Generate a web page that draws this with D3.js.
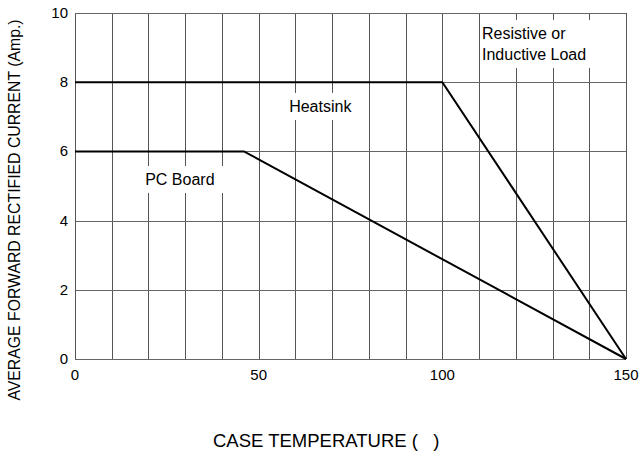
<!DOCTYPE html>
<html>
<head>
<meta charset="utf-8">
<script src="https://cdn.jsdelivr.net/npm/d3@7/dist/d3.min.js"></script>
<style>
  body { margin: 0; background: #fff; }
  svg text { font-family: "Liberation Sans", Arial, sans-serif; fill: #000; }
</style>
</head>
<body>
<div id="chart"></div>
<script>
'use strict';

// curve data
var heatsinkT = [0, 100, 150];
var heatsinkI = [8, 8, 0];
var boardT = [0, 46, 150];
var boardI = [6, 6, 0];

var xTicks = [0, 50, 100, 150];
var yTicks = [0, 2, 4, 6, 8, 10];
var xGrid = d3.range(0, 151, 10);

var labels = [
    { lines: ['Resistive or', 'Inductive Load'], t: 110.8, i: 9.25 },
    { lines: ['Heatsink'], t: 58.3, i: 7.14 },
    { lines: ['PC Board'], t: 19.1, i: 5.03 }
];

var width = 641, height = 456;
var margin = { left: 75, right: 15, top: 13, bottom: 97 };

var svg = d3.select('#chart')
    .append('svg')
        .attr('width', width)
        .attr('height', height);

var x = d3.scaleLinear().domain([0, 150]).range([margin.left, width - margin.right]);
var y = d3.scaleLinear().domain([0, 10]).range([height - margin.bottom, margin.top]);

// grid
svg.append('g')
    .selectAll('line')
    .data(xGrid)
    .enter()
    .append('line')
    .attr('x1', d => Math.round(x(d)) + 0.5)
    .attr('x2', d => Math.round(x(d)) + 0.5)
    .attr('y1', y(10))
    .attr('y2', y(0))
    .style('stroke', '#555')
    .style('stroke-width', 1);

svg.append('g')
    .selectAll('line')
    .data(yTicks)
    .enter()
    .append('line')
    .attr('x1', x(0))
    .attr('x2', x(150))
    .attr('y1', d => Math.round(y(d)) + 0.5)
    .attr('y2', d => Math.round(y(d)) + 0.5)
    .style('stroke', '#666')
    .style('stroke-width', 1);

// label boxes (they blank out the grid)
var lab = svg.append('g');
labels.forEach(function (l) {
    var g = lab.append('g');
    var txt = g.append('text')
        .attr('x', x(l.t))
        .attr('y', y(l.i))
        .style('font-size', '16px');
    l.lines.forEach(function (s, k) {
        txt.append('tspan')
            .attr('x', x(l.t))
            .attr('dy', k === 0 ? 0 : 21)
            .text(s);
    });
    var bb = txt.node().getBBox();
    g.insert('rect', 'text')
        .attr('x', bb.x - 2)
        .attr('y', bb.y - 5)
        .attr('width', bb.width + 14)
        .attr('height', bb.height + 10)
        .style('fill', '#fff');
});

// curves
var line = d3.line()
    .x(d => x(d[0]))
    .y(d => y(d[1]));

svg.append('path')
    .datum(d3.zip(heatsinkT, heatsinkI))
    .attr('d', line)
    .style('fill', 'none')
    .style('stroke', '#000')
    .style('stroke-width', 2);

svg.append('path')
    .datum(d3.zip(boardT, boardI))
    .attr('d', line)
    .style('fill', 'none')
    .style('stroke', '#000')
    .style('stroke-width', 2);

// tick labels
svg.append('g')
    .selectAll('text')
    .data(yTicks)
    .enter()
    .append('text')
    .attr('x', x(0) - 7)
    .attr('y', d => y(d) + 5)
    .attr('text-anchor', 'end')
    .style('font-size', '15px')
    .text(d => d);

svg.append('g')
    .selectAll('text')
    .data(xTicks)
    .enter()
    .append('text')
    .attr('x', d => x(d))
    .attr('y', y(0) + 21)
    .attr('text-anchor', 'middle')
    .style('font-size', '15px')
    .text(d => d);

// axis titles
svg.append('text')
    .attr('transform', 'translate(20,210) rotate(-90)')
    .attr('text-anchor', 'middle')
    .style('font-size', '15.8px')
    .text('AVERAGE FORWARD RECTIFIED CURRENT (Amp.)');

svg.append('text')
    .attr('x', 213)
    .attr('y', 447)
    .style('font-size', '18.5px')
    .text('CASE TEMPERATURE (\u00a0\u00a0\u00a0)');
</script>
</body>
</html>
